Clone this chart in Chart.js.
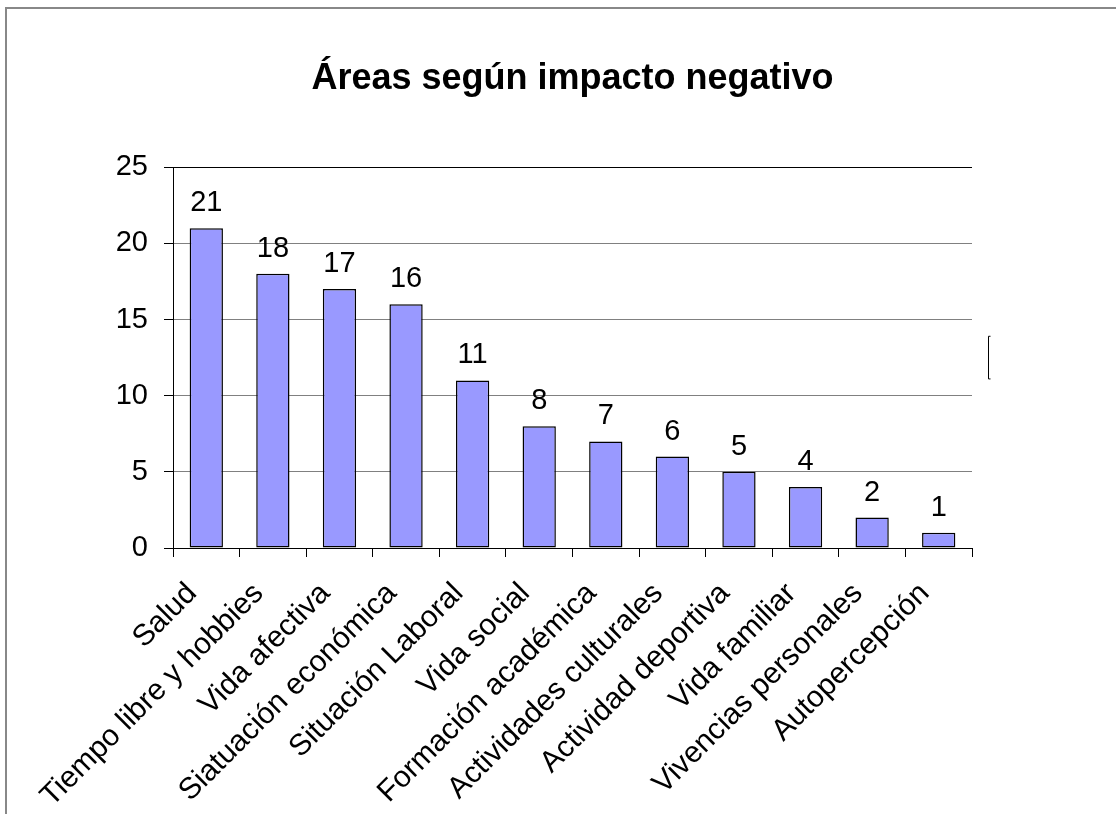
<!DOCTYPE html>
<html>
<head>
<meta charset="utf-8">
<script src="https://cdn.jsdelivr.net/npm/chart.js@4"></script>
<style>
    html, body { margin: 0; padding: 0; background: #fff; }
    #marco {
        position: absolute;
        left: 5px;
        top: 7px;
        width: 1120px;
        height: 820px;
        border-left: 2px solid #888;
        border-top: 2px solid #888;
    }
    #grafico { position: absolute; left: 0; top: 0; }
</style>
</head>
<body>
<div id="marco"></div>
<canvas id="grafico" width="1116" height="814"></canvas>
<script>
const categorias = [
    'Salud', 'Tiempo libre y hobbies', 'Vida afectiva', 'Siatuación económica',
    'Situación Laboral', 'Vida social', 'Formación académica', 'Actividades culturales',
    'Actividad deportiva', 'Vida familiar', 'Vivencias personales', 'Autopercepción'
];
const valores = [21, 18, 17, 16, 11, 8, 7, 6, 5, 4, 2, 1];
const ticksY = [0, 5, 10, 15, 20, 25];
const titulo = 'Áreas según impacto negativo';

const fuente = 'Liberation Sans, Arial, sans-serif';

// values above each bar
const etiquetas = {
    id: 'etiquetas',
    afterDatasetsDraw(chart) {
        const ctx = chart.ctx;
        const meta = chart.getDatasetMeta(0);
        ctx.save();
        ctx.font = '29px ' + fuente;
        ctx.fillStyle = '#000';
        ctx.textAlign = 'center';
        ctx.textBaseline = 'alphabetic';
        meta.data.forEach((bar, i) => {
            ctx.fillText(String(valores[i]), bar.x, bar.y - 17);
        });
        ctx.restore();
    }
};

// leftover legend bracket seen on the right of the original
const corchete = {
    id: 'corchete',
    afterDraw(chart) {
        const ctx = chart.ctx;
        const y1 = chart.scales.y.getPixelForValue(13.9);
        const y2 = chart.scales.y.getPixelForValue(11.1);
        const x = chart.chartArea.right + 16.5;
        ctx.save();
        ctx.strokeStyle = '#000';
        ctx.lineWidth = 1;
        ctx.beginPath();
        ctx.moveTo(x + 2, y1);
        ctx.lineTo(x, y1);
        ctx.lineTo(x, y2);
        ctx.lineTo(x + 2, y2);
        ctx.stroke();
        ctx.restore();
    }
};

new Chart(document.getElementById('grafico'), {
    type: 'bar',
    data: {
        labels: categorias,
        datasets: [{
            data: valores,
            backgroundColor: '#9999FF',
            borderColor: '#000',
            borderWidth: 1.5,
            borderSkipped: false,
            categoryPercentage: 1,
            barPercentage: 0.5
        }]
    },
    options: {
        responsive: false,
        animation: false,
        layout: { padding: { left: 100, right: 144, top: 0, bottom: 0 } },
        plugins: {
            legend: { display: false },
            tooltip: { enabled: false },
            title: {
                display: true,
                fullSize: false, // centre over the plot area, not the canvas
                text: titulo,
                color: '#000',
                font: { family: fuente, size: 36, weight: 'bold', lineHeight: 1.2 },
                padding: { top: 57, bottom: 67 }
            }
        },
        scales: {
            x: {
                offset: true,
                grid: {
                    display: true,
                    offset: true,
                    drawOnChartArea: false,
                    drawTicks: true,
                    tickLength: 9,
                    tickColor: '#000'
                },
                border: { display: true, color: '#000', width: 1 },
                ticks: {
                    color: '#000',
                    font: { family: fuente, size: 30 },
                    minRotation: 45,
                    maxRotation: 45,
                    autoSkip: false,
                    padding: 19,
                    labelOffset: -14
                },
                afterFit(scale) { scale.height = 266; }
            },
            y: {
                min: 0,
                max: 25,
                afterBuildTicks(scale) {
                    scale.ticks = ticksY.map(v => ({ value: v }));
                },
                grid: {
                    color: ctx => (ctx.tick && ctx.tick.value === 25 ? '#000' : '#808080'),
                    lineWidth: 1,
                    tickLength: 9,
                    tickColor: '#000'
                },
                border: { display: true, color: '#000', width: 1 },
                ticks: {
                    color: '#000',
                    font: { family: fuente, size: 29 },
                    padding: 16
                },
                afterFit(scale) { scale.width = 73; }
            }
        }
    },
    plugins: [etiquetas, corchete]
});
</script>
</body>
</html>
